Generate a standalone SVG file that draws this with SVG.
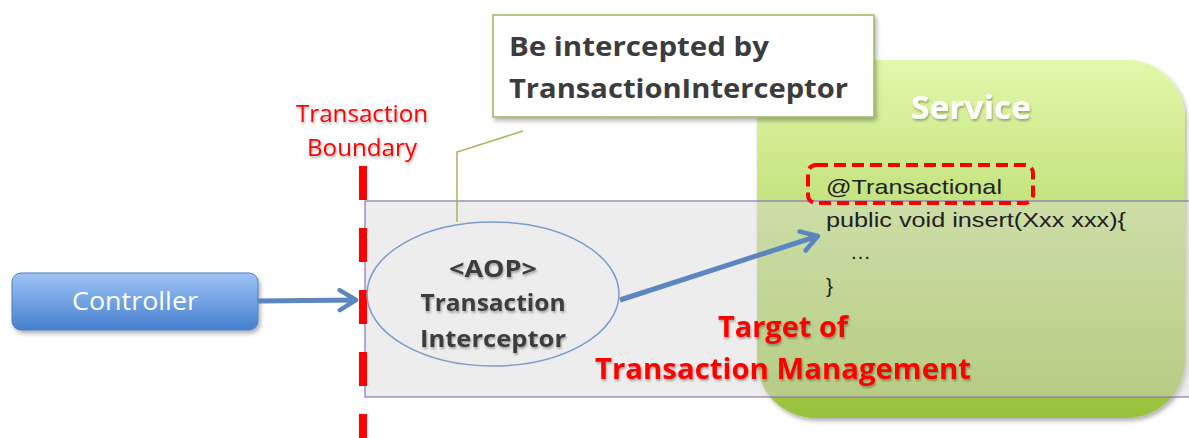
<svg xmlns="http://www.w3.org/2000/svg" width="1189" height="438" viewBox="0 0 1189 438">
<defs>
<linearGradient id="gGreen" x1="0" y1="0" x2="0" y2="1">
<stop offset="0" stop-color="#e2f8ab"/>
<stop offset="1" stop-color="#98c23c"/>
</linearGradient>
<linearGradient id="gBlue" x1="0" y1="0" x2="0" y2="1">
<stop offset="0" stop-color="#a0c4f6"/>
<stop offset="1" stop-color="#4480cf"/>
</linearGradient>
<filter id="sh" x="-10%" y="-10%" width="130%" height="130%">
<feDropShadow dx="2" dy="3" stdDeviation="2" flood-color="#000" flood-opacity="0.3"/>
</filter>
<filter id="tsh" x="-5%" y="-20%" width="110%" height="150%">
<feDropShadow dx="1" dy="2" stdDeviation="1" flood-color="#000" flood-opacity="0.3"/>
</filter>
<marker id="arr" viewBox="0 0 10 10" refX="8" refY="5" markerWidth="5" markerHeight="5" orient="auto" markerUnits="strokeWidth">
<path d="M1.5,1 L8,5 L1.5,9" fill="none" stroke="#5b86c0" stroke-width="1.8" stroke-linecap="round" stroke-linejoin="round"/>
</marker>
<style>
.red{fill:#ff0000;font-family:"Open Sans","Liberation Sans",sans-serif}
.dark{fill:#3c3c3c;font-family:"Open Sans","Liberation Sans",sans-serif;font-weight:bold}
.code{fill:#222;font-family:"Liberation Sans",sans-serif;font-size:21px}
.conn{stroke:#5b86c0;stroke-width:5;fill:none}
</style>
</defs>
<rect width="1189" height="438" fill="#fff"/>

<g id="service">
<rect x="757" y="60" width="428" height="358" rx="58" ry="58" fill="url(#gGreen)" filter="url(#sh)"/>
<text x="971" y="119" text-anchor="middle" font-family="Open Sans, Liberation Sans, sans-serif" font-weight="bold" font-size="32" fill="#fff" textLength="120" lengthAdjust="spacingAndGlyphs" filter="url(#tsh)">Service</text>
</g>

<g id="boundary-area">
<rect x="365" y="201" width="830" height="196" fill="#d6d6d6" fill-opacity="0.45" stroke="#8a73b5" stroke-width="1.2"/>
</g>

<g id="boundary">
<line x1="363" y1="166" x2="363" y2="438" stroke="#ff0000" stroke-width="8" stroke-dasharray="34 28"/>
<text class="red" x="362" y="122" text-anchor="middle" font-size="23" textLength="132" lengthAdjust="spacingAndGlyphs" filter="url(#tsh)">Transaction</text>
<text class="red" x="362" y="156" text-anchor="middle" font-size="23" textLength="110" lengthAdjust="spacingAndGlyphs" filter="url(#tsh)">Boundary</text>
</g>

<g id="callout">
<polyline points="523,131 457,152 457,222" fill="none" stroke="#9bbb59" stroke-width="1.5"/>
<rect x="493" y="15" width="381" height="102" fill="#fff" stroke="#9bbb59" stroke-width="1.5" filter="url(#sh)"/>
<text class="dark" x="509" y="56" font-size="27" textLength="260" lengthAdjust="spacingAndGlyphs">Be intercepted by</text>
<text class="dark" x="509" y="98" font-size="27" textLength="339" lengthAdjust="spacingAndGlyphs">TransactionInterceptor</text>
</g>

<g id="controller">
<rect x="12" y="273" width="246" height="57" rx="9" ry="9" fill="url(#gBlue)" stroke="#4a7cc0" stroke-width="1" filter="url(#sh)"/>
<text x="135" y="310" text-anchor="middle" font-family="Open Sans, Liberation Sans, sans-serif" font-size="25" fill="#fff" textLength="126" lengthAdjust="spacingAndGlyphs">Controller</text>
</g>

<g id="interceptor">
<ellipse cx="493" cy="294" rx="126" ry="72" fill="#ededed" stroke="#7a9cc8" stroke-width="1.5"/>
<text class="dark" x="493" y="277" text-anchor="middle" font-size="24" textLength="88" lengthAdjust="spacingAndGlyphs" filter="url(#tsh)">&lt;AOP&gt;</text>
<text class="dark" x="493" y="311" text-anchor="middle" font-size="24" textLength="145" lengthAdjust="spacingAndGlyphs" filter="url(#tsh)">Transaction</text>
<text class="dark" x="493" y="347" text-anchor="middle" font-size="24" textLength="146" lengthAdjust="spacingAndGlyphs" filter="url(#tsh)">Interceptor</text>
</g>

<g id="code">
<rect x="808" y="165" width="225" height="38" rx="8" ry="8" fill="none" stroke="#ff0000" stroke-width="4" stroke-dasharray="12 6"/>
<text class="code" x="826" y="194" textLength="176" lengthAdjust="spacingAndGlyphs">@Transactional</text>
<text class="code" x="826" y="227" textLength="300" lengthAdjust="spacingAndGlyphs">public void insert(Xxx xxx){</text>
<text class="code" x="850" y="259">…</text>
<text class="code" x="826" y="293">}</text>
</g>

<g id="target-label">
<text class="red" x="783" y="337" text-anchor="middle" font-size="28" font-weight="bold" textLength="130" lengthAdjust="spacingAndGlyphs" filter="url(#tsh)">Target of</text>
<text class="red" x="783" y="379" text-anchor="middle" font-size="28" font-weight="bold" textLength="376" lengthAdjust="spacingAndGlyphs" filter="url(#tsh)">Transaction Management</text>
</g>

<g id="connectors">
<line class="conn" x1="258" y1="301" x2="356" y2="300" marker-end="url(#arr)"/>
<line class="conn" x1="620" y1="300" x2="818" y2="236" marker-end="url(#arr)"/>
</g>
</svg>
